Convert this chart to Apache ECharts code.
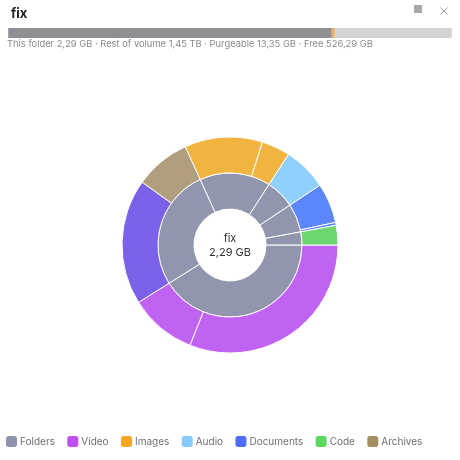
<!DOCTYPE html>
<html>
<head>
<meta charset="utf-8">
<script src="https://cdn.jsdelivr.net/npm/echarts@6/dist/echarts.min.js"></script>
<style>html,body{margin:0;padding:0;background:#fff;}#c{width:460px;height:460px;}</style>
</head>
<body>
<div id="c"></div>
<script>
// ---- data ----
const folderName = 'fix';
const folderTotalText = '2,29 GB';
const volumeLabels = ['This folder', 'Rest of volume', 'Purgeable', 'Free'];
const volumeValuesGB = [2.29, 1450, 13.35, 526.29];
const volumeValueText = ['2,29 GB', '1,45 TB', '13,35 GB', '526,29 GB'];

const legendTypes = ['Folders', 'Video', 'Images', 'Audio', 'Documents', 'Code', 'Archives'];
const subFolders = ['sub1', 'sub2', 'sub3', 'sub4', 'sub5', 'sub6'];
// file groups (MB), parent = index in subFolders
const fileTypes = ['Video', 'Video', 'Other', 'Archives', 'Images', 'Images', 'Audio', 'Documents', 'Documents', 'Code'];
const fileValuesMB = [712, 230, 431, 191, 267, 98, 150, 137, 10, 67];
const fileParent = [0, 0, 1, 1, 2, 2, 3, 4, 4, 5];

// ---- styles ----
const legendColors = {
  Folders: '#8f93ad', Video: '#bf4ff2', Images: '#f5a623', Audio: '#84ccff',
  Documents: '#4c6ef8', Code: '#5bd65e', Archives: '#a68e63'
};
const sliceColors = {
  Video: '#c062f2', Other: '#7b61e8', Archives: '#b09e7e', Images: '#f2b441',
  Audio: '#90d0fd', Documents: '#5b87fa', Code: '#6dd670'
};
const folderColor = '#9196ae';
const volumeColors = ['#7c84b8', '#8e8e93', '#f0a858', '#d3d3d3'];
const FONT = 'Inter, "Noto Sans", sans-serif';

// ---- build sunburst data ----
const folderNodes = subFolders.map(n => ({ name: n, children: [] }));
fileTypes.forEach((t, i) => {
  folderNodes[fileParent[i]].children.push({
    name: t, value: fileValuesMB[i], itemStyle: { color: sliceColors[t] }
  });
});
const sunData = [{ name: folderName, children: folderNodes }];

const volTotal = volumeValuesGB.reduce((a, b) => a + b, 0);
const volSeries = volumeLabels.map((l, i) => ({
  type: 'bar', name: l, stack: 'vol', barWidth: 10, silent: true,
  data: [volumeValuesGB[i]],
  itemStyle: {
    color: volumeColors[i],
    borderRadius: i === 0 ? [2, 0, 0, 2] : (i === volumeLabels.length - 1 ? [0, 2, 2, 0] : 0)
  }
}));
const legendSeries = legendTypes.map(t => ({
  type: 'scatter', name: t, data: [], itemStyle: { color: legendColors[t], opacity: 1 }
}));

const chart = echarts.init(document.getElementById('c'), null, { renderer: 'canvas' });
chart.setOption({
  animation: false,
  backgroundColor: '#fff',
  textStyle: { fontFamily: FONT },
  title: [
    { text: folderName, left: 6, top: 3, textStyle: { fontSize: 13, fontWeight: 'bold', color: '#222', fontFamily: FONT } },
    { text: volumeLabels.map((l, i) => l + ' ' + volumeValueText[i]).join(' · '), left: 7, top: 40,
      padding: 0, textStyle: { fontSize: 9.35, fontWeight: 'normal', color: '#8a8a8a', fontFamily: FONT } },
    { text: folderName, subtext: folderTotalText, left: 'center', top: 232, padding: 0, itemGap: 1, z: 10,
      textStyle: { fontSize: 11, fontWeight: 'normal', color: '#333', fontFamily: FONT, lineHeight: 13 },
      subtextStyle: { fontSize: 11, color: '#333', fontFamily: FONT, lineHeight: 13 } }
  ],
  grid: { left: 8, right: 8, top: 28, height: 10 },
  xAxis: { type: 'value', min: 0, max: volTotal, show: false },
  yAxis: { type: 'category', data: ['volume'], show: false },
  legend: {
    data: legendTypes, left: 6, top: 436, padding: 0, itemWidth: 11, itemHeight: 11,
    itemGap: 12.4, icon: 'roundRect', selectedMode: false,
    itemStyle: { opacity: 1 },
    textStyle: { fontSize: 10, color: '#6e6e6e', fontFamily: FONT, padding: [0, 0, 0, -2] }
  },
  graphic: [
    { type: 'rect', left: 414, top: 5, shape: { width: 8, height: 8 }, style: { fill: '#a8a8a8' } },
    { type: 'group', left: 438, top: 5, children: [
      { type: 'line', shape: { x1: 0, y1: 0, x2: 7, y2: 7 }, style: { stroke: '#9a9a9a', lineWidth: 1 } },
      { type: 'line', shape: { x1: 7, y1: 0, x2: 0, y2: 7 }, style: { stroke: '#9a9a9a', lineWidth: 1 } }
    ] }
  ],
  series: [
    ...volSeries,
    ...legendSeries,
    {
      type: 'sunburst', center: [230, 245], startAngle: 0, clockwise: true, sort: null,
      nodeClick: false, data: sunData,
      emphasis: { disabled: true },
      levels: [
        {},
        { r0: 0, r: 36, itemStyle: { color: '#ffffff', borderWidth: 0 }, label: { show: false } },
        { r0: 36, r: 72, itemStyle: { color: folderColor, borderColor: '#fff', borderWidth: 1 }, label: { show: false } },
        { r0: 72, r: 108, itemStyle: { borderColor: '#fff', borderWidth: 1 }, label: { show: false } }
      ]
    }
  ]
});
</script>
</body>
</html>
